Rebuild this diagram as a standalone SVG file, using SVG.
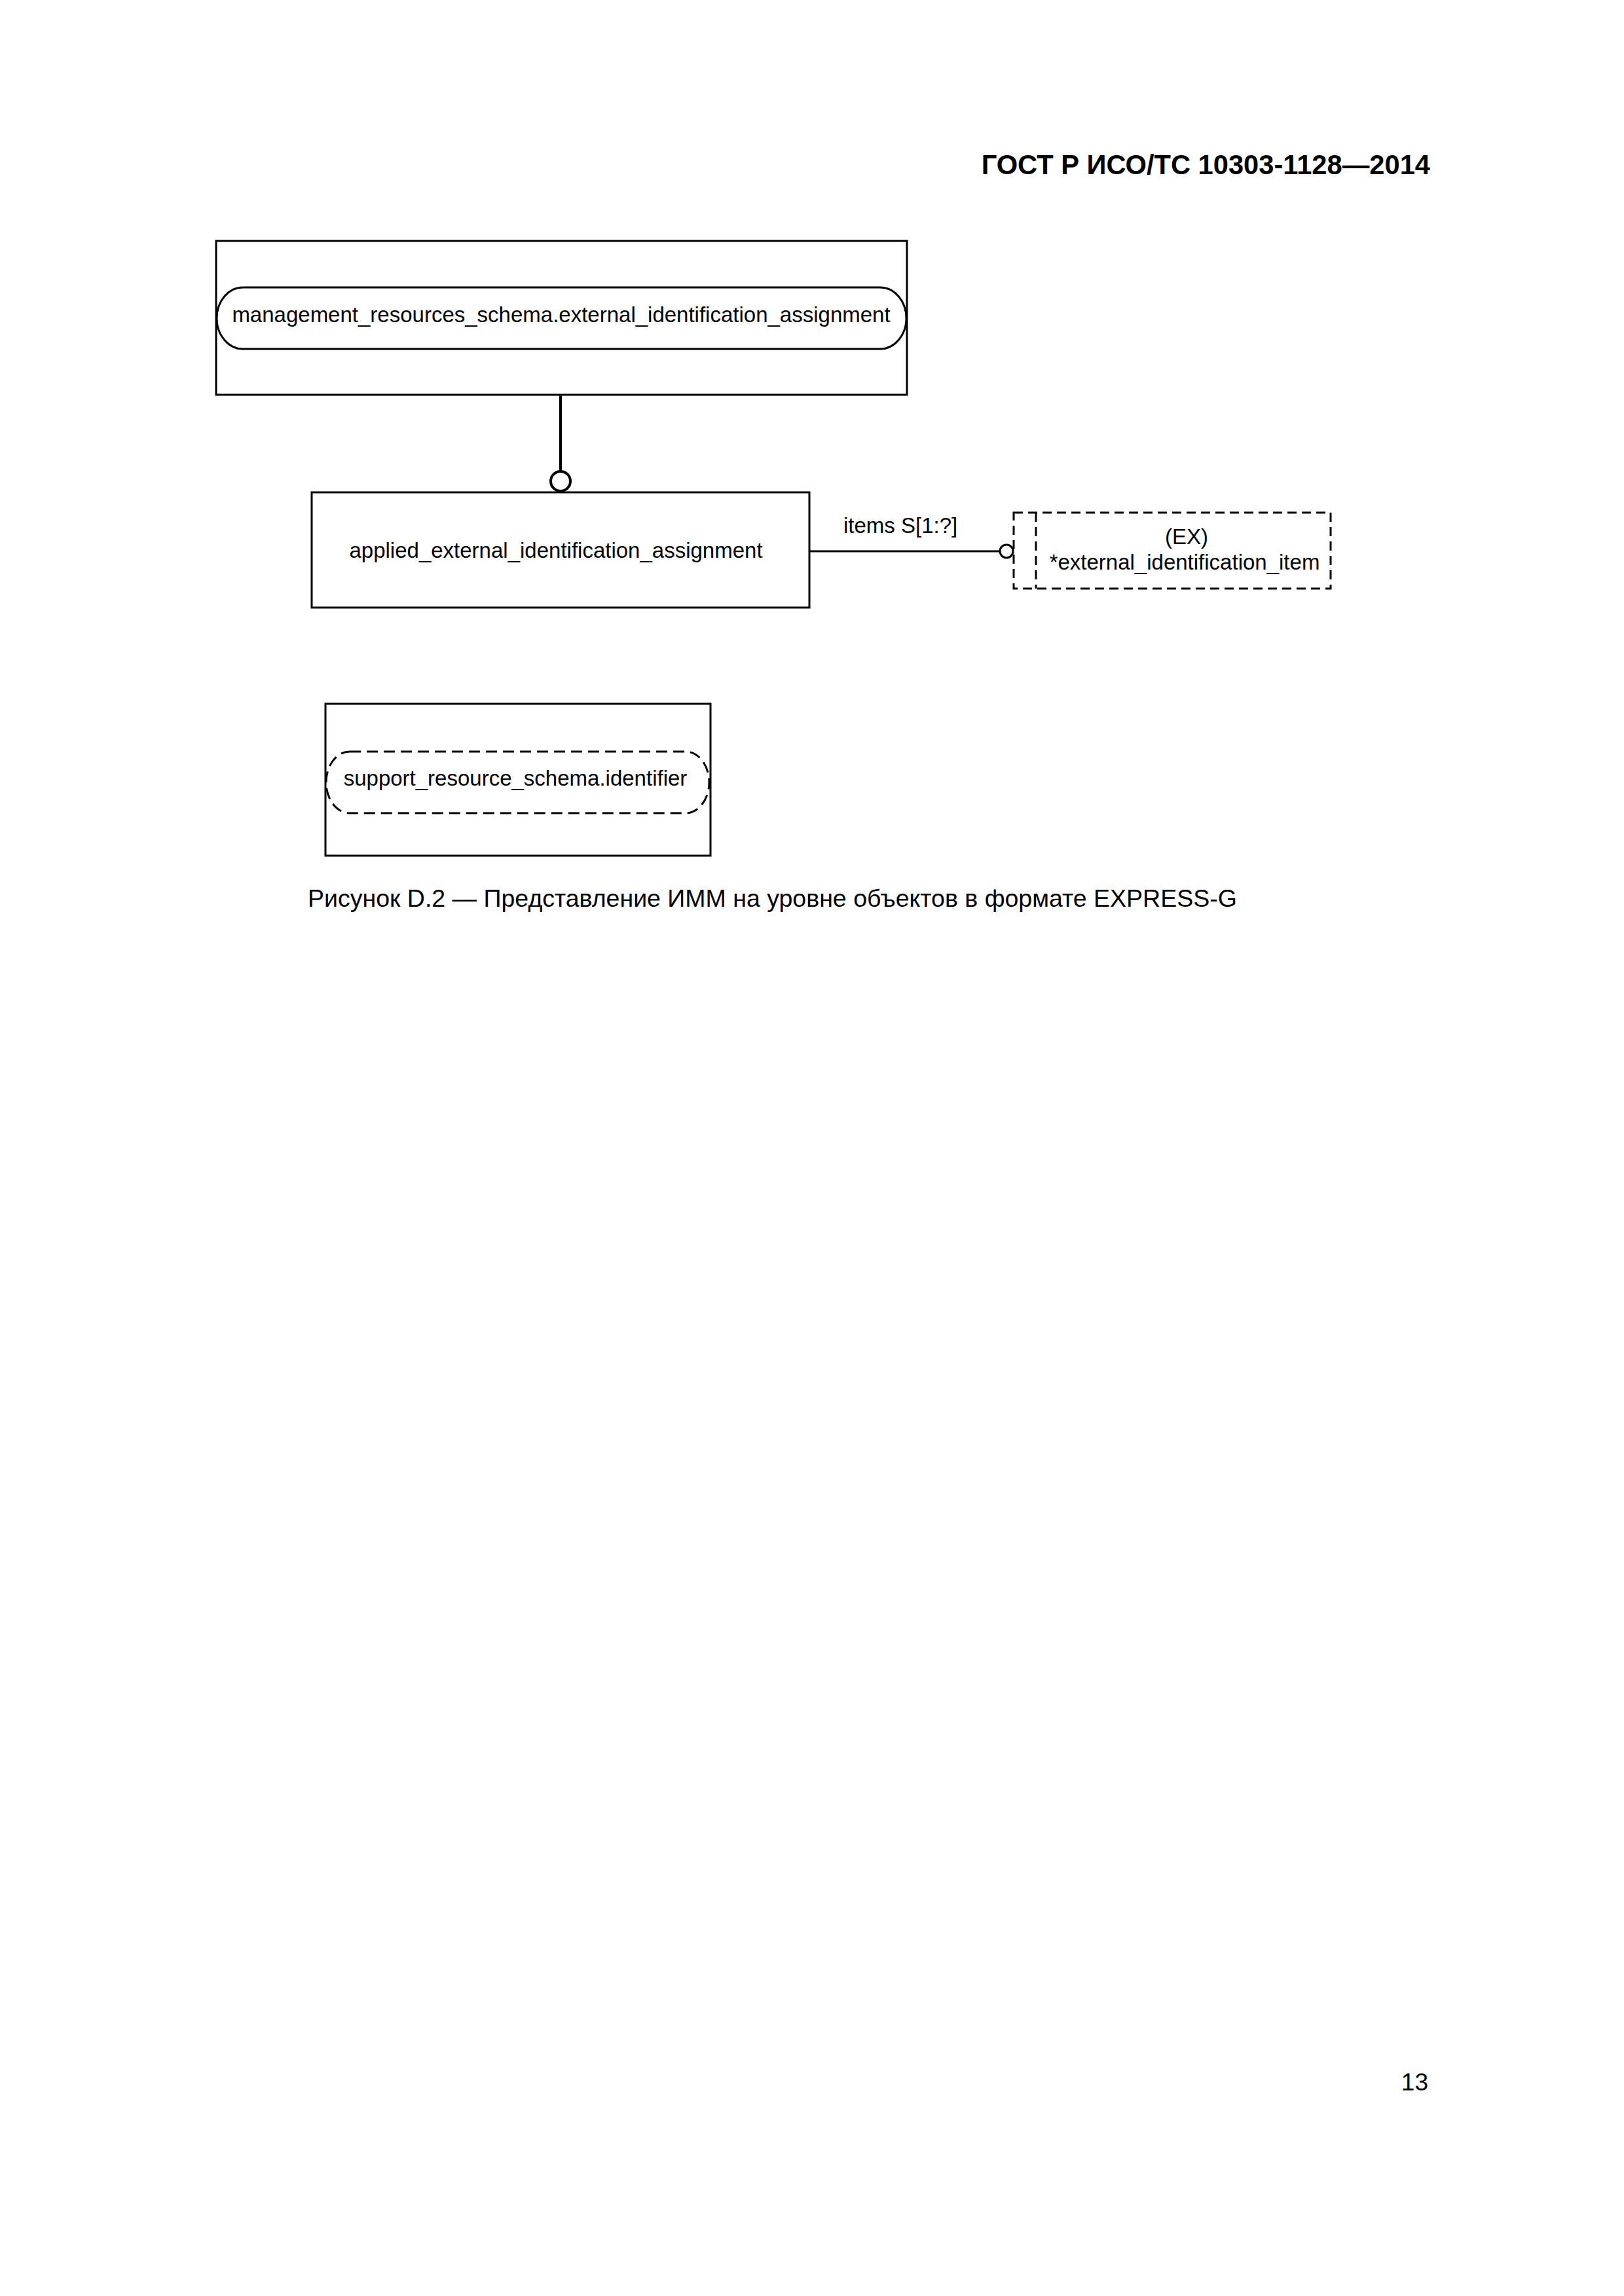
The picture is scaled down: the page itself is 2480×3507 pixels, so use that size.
<svg xmlns="http://www.w3.org/2000/svg" width="2480" height="3507" viewBox="0 0 2480 3507">
<style>
.bg{fill:#ffffff}
.box{fill:none;stroke:#000;stroke-width:3}
.dash{fill:none;stroke:#000;stroke-width:3;stroke-dasharray:14 8}
.dashr{fill:none;stroke:#000;stroke-width:3;stroke-dasharray:17 9}
.lbl{font-family:"Liberation Sans",Arial,sans-serif;font-size:33px;fill:#000}
.mid{text-anchor:middle}
.hdr{font-family:"Liberation Sans",Arial,sans-serif;font-size:41.67px;font-weight:bold;fill:#000;text-anchor:end}
.cap{font-family:"Liberation Sans",Arial,sans-serif;font-size:37.5px;fill:#000}
.conn{fill:none;stroke:#000}
</style>
<rect class="bg" x="0" y="0" width="2480" height="3507"/>
<text class="hdr" x="2184" y="266">ГОСТ Р ИСО/ТС 10303-1128—2014</text>

<g id="node-management">
<rect class="box" x="330" y="368" width="1055" height="235"/>
<rect class="box" x="331" y="439" width="1053" height="94" rx="40" ry="47"/>
<text class="lbl mid" x="857" y="492">management_resources_schema.external_identification_assignment</text>
</g>

<g id="node-applied">
<rect class="box" x="476" y="752" width="760" height="176"/>
<text class="lbl mid" x="849" y="852">applied_external_identification_assignment</text>
</g>

<g id="node-external-item">
<rect class="dash" x="1548" y="783" width="484" height="116"/>
<line class="dash" x1="1582" y1="783" x2="1582" y2="899"/>
<text class="lbl mid" x="1812" y="831">(EX)</text>
<text class="lbl mid" x="1809" y="870">*external_identification_item</text>
</g>

<g id="node-support">
<rect class="box" x="497" y="1075" width="588" height="232"/>
<rect class="dashr" x="498" y="1148" width="585" height="94" rx="36" ry="47"/>
<text class="lbl mid" x="787" y="1200">support_resource_schema.identifier</text>
</g>

<g id="connectors">
<line class="conn" stroke-width="4" x1="856" y1="603" x2="856" y2="720"/>
<circle class="conn" stroke-width="4" cx="856" cy="735" r="15"/>
<line class="conn" stroke-width="3" x1="1236" y1="842" x2="1526" y2="842"/>
<circle class="conn" stroke-width="3" cx="1537" cy="842" r="10"/>
<text class="lbl" x="1288" y="814">items S[1:?]</text>
</g>

<text class="cap" x="470" y="1385">Рисунок D.2 — Представление ИММ на уровне объектов в формате EXPRESS-G</text>
<text class="cap" x="2181" y="3193" text-anchor="end" style="font-size:37px">13</text>
</svg>
